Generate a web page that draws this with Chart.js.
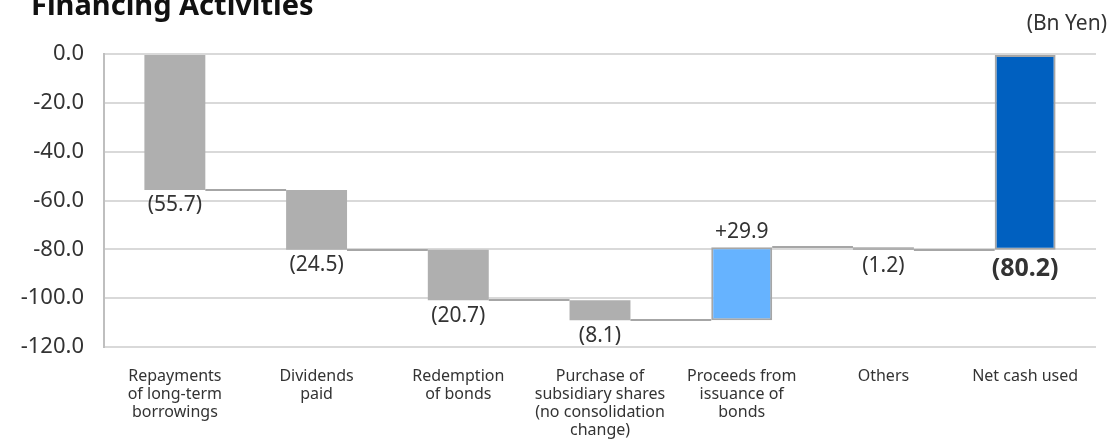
<!DOCTYPE html>
<html>
<head>
<meta charset="utf-8">
<title>Financing Activities</title>
<script src="https://cdn.jsdelivr.net/npm/chart.js@4.4.1/dist/chart.umd.min.js"></script>
<style>
  html, body { margin: 0; padding: 0; background: #fff; }
  #wrap { position: relative; width: 1109px; height: 440px; overflow: hidden; font-family: 'Noto Sans', sans-serif; }
  #chart { position: absolute; left: 0; top: 0; }
  #title { position: absolute; left: 31px; top: -13px; font-size: 29px; font-weight: bold; color: #111; line-height: 34px; white-space: nowrap; }
  #unit { position: absolute; right: 2px; top: 8px; font-size: 21px; color: #333; line-height: 28px; }
</style>
</head>
<body>
<div id="wrap">
  <canvas id="chart" width="1109" height="440"></canvas>
  <div id="title">Financing Activities</div>
  <div id="unit">(Bn Yen)</div>
</div>
<script>
// categories (multi-line axis labels)
const categories = [
  ['Repayments', 'of long-term', 'borrowings'],
  ['Dividends', 'paid'],
  ['Redemption', 'of bonds'],
  ['Purchase of', 'subsidiary shares', '(no consolidation', 'change)'],
  ['Proceeds from', 'issuance of', 'bonds'],
  ['Others'],
  ['Net cash used']
];
// cash flow items, Bn Yen
const changes = [-55.7, -24.5, -20.7, -8.1, 29.9, -1.2];
const netCash = -80.2;
const yTicks = [0, -20, -40, -60, -80, -100, -120];

const barColors = ['#afafaf', '#afafaf', '#afafaf', '#afafaf', '#66b3ff', '#afafaf', '#0060c0'];
const borderWidths = [0, 0, 0, 0, 2, 0, 2];

// running totals -> floating bars
const levels = [0];
changes.forEach(c => levels.push(+(levels[levels.length - 1] + c).toFixed(1)));
const bars = changes.map((c, i) => [levels[i], levels[i + 1]]);
bars.push([0, netCash]);
const values = changes.concat([netCash]);

const fmt = v => v < 0 ? '(' + Math.abs(v).toFixed(1) + ')' : '+' + v.toFixed(1);

// thin steps between consecutive bars
const connectors = {
  id: 'connectors',
  afterDatasetsDraw(chart) {
    const ctx = chart.ctx;
    const meta = chart.getDatasetMeta(0);
    const y = chart.scales.y;
    ctx.save();
    ctx.strokeStyle = '#a6a6a6';
    ctx.lineWidth = 2;
    for (let i = 0; i < meta.data.length - 1; i++) {
      const a = meta.data[i], b = meta.data[i + 1];
      const py = Math.round(y.getPixelForValue(bars[i][1]));
      ctx.beginPath();
      ctx.moveTo(a.x + a.width / 2, py);
      ctx.lineTo(b.x - b.width / 2, py);
      ctx.stroke();
    }
    ctx.restore();
  }
};

// value labels under / above each bar
const valueLabels = {
  id: 'valueLabels',
  afterDatasetsDraw(chart) {
    const ctx = chart.ctx;
    const meta = chart.getDatasetMeta(0);
    ctx.save();
    ctx.fillStyle = '#333';
    ctx.textAlign = 'center';
    meta.data.forEach((el, i) => {
      const v = values[i];
      const isNet = i === values.length - 1;
      ctx.font = isNet ? 'bold 25px "Noto Sans"' : '21px "Noto Sans"';
      const top = Math.min(el.y, el.base), bottom = Math.max(el.y, el.base);
      if (v < 0) {
        ctx.textBaseline = 'top';
        ctx.fillText(fmt(v), el.x, bottom + (isNet ? 7 : 5));
      } else {
        ctx.textBaseline = 'alphabetic';
        ctx.fillText(fmt(v), el.x, top - 9);
      }
    });
    ctx.restore();
  }
};

new Chart(document.getElementById('chart'), {
  type: 'bar',
  data: {
    labels: categories,
    datasets: [{
      data: bars,
      backgroundColor: barColors,
      borderColor: '#a6a6a6',
      borderWidth: borderWidths,
      borderSkipped: false,
      categoryPercentage: 1,
      barPercentage: 0.43
    }]
  },
  options: {
    responsive: false,
    animation: false,
    layout: { padding: { top: 54, right: 13, left: 0, bottom: 0 } },
    plugins: {
      legend: { display: false },
      tooltip: { enabled: false }
    },
    scales: {
      y: {
        min: -120,
        max: 0,
        afterBuildTicks: s => { s.ticks = yTicks.map(v => ({ value: v })); },
        afterFit: s => { s.width = 104; },
        ticks: {
          callback: v => Number(v).toFixed(1),
          color: '#333',
          font: { family: 'Noto Sans', size: 22 },
          padding: 20
        },
        grid: { color: '#d9d9d9', lineWidth: 2, drawTicks: false },
        border: { display: true, color: '#bfbfbf', width: 2 }
      },
      x: {
        afterFit: s => { s.height = 93; },
        ticks: {
          color: '#333',
          font: { family: 'Noto Sans', size: 16, lineHeight: 1.125 },
          padding: 12,
          maxRotation: 0,
          autoSkip: false
        },
        grid: { display: false },
        border: { display: false }
      }
    }
  },
  plugins: [connectors, valueLabels]
});
</script>
</body>
</html>
